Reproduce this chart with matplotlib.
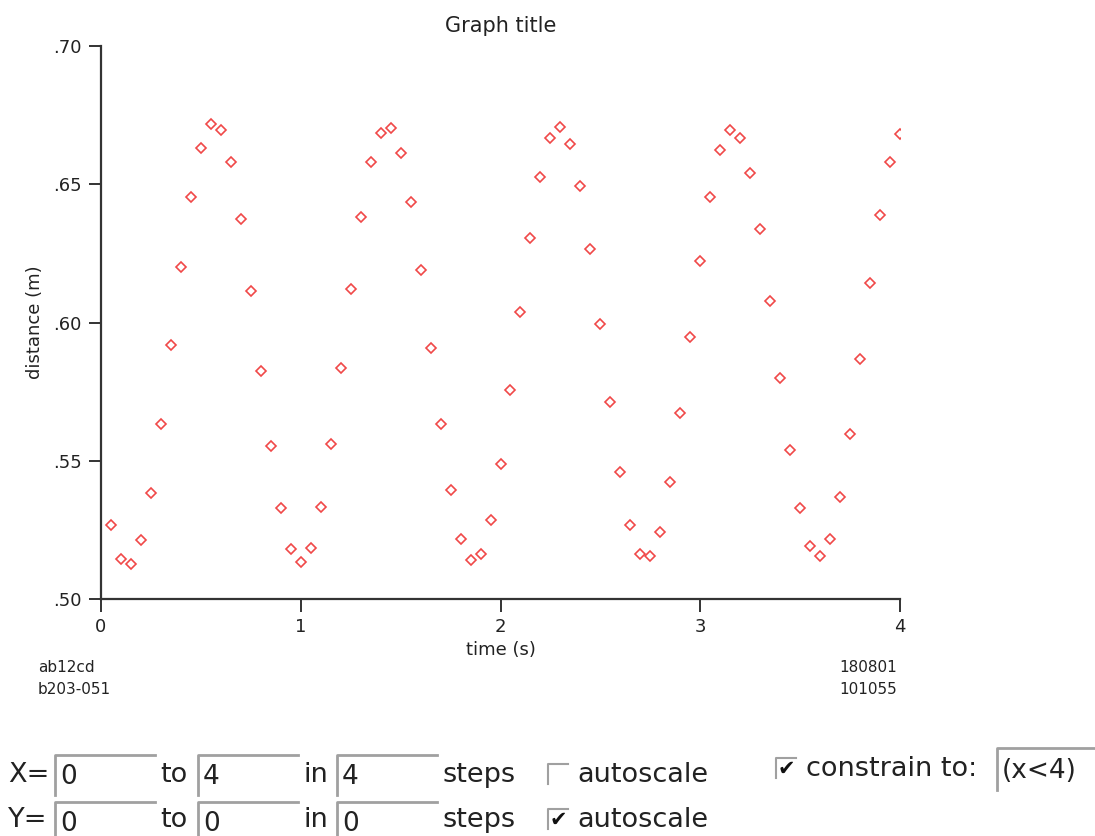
import matplotlib.pyplot as plt
from matplotlib.patches import Rectangle
from matplotlib.lines import Line2D

# time samples (s)
time_s = [0.05, 0.10, 0.15, 0.20, 0.25, 0.30, 0.35, 0.40, 0.45, 0.50,
          0.55, 0.60, 0.65, 0.70, 0.75, 0.80, 0.85, 0.90, 0.95, 1.00,
          1.05, 1.10, 1.15, 1.20, 1.25, 1.30, 1.35, 1.40, 1.45, 1.50,
          1.55, 1.60, 1.65, 1.70, 1.75, 1.80, 1.85, 1.90, 1.95, 2.00,
          2.05, 2.10, 2.15, 2.20, 2.25, 2.30, 2.35, 2.40, 2.45, 2.50,
          2.55, 2.60, 2.65, 2.70, 2.75, 2.80, 2.85, 2.90, 2.95, 3.00,
          3.05, 3.10, 3.15, 3.20, 3.25, 3.30, 3.35, 3.40, 3.45, 3.50,
          3.55, 3.60, 3.65, 3.70, 3.75, 3.80, 3.85, 3.90, 3.95, 4.00]

# distance readings (m)
distance_m = [0.5267, 0.5143, 0.5128, 0.5212, 0.5384, 0.5632, 0.5919, 0.6202, 0.6453, 0.6632,
              0.6719, 0.6695, 0.6581, 0.6376, 0.6115, 0.5825, 0.5554, 0.5330, 0.5181, 0.5133,
              0.5185, 0.5333, 0.5560, 0.5835, 0.6120, 0.6380, 0.6581, 0.6687, 0.6705, 0.6614,
              0.6437, 0.6191, 0.5908, 0.5634, 0.5393, 0.5216, 0.5140, 0.5164, 0.5285, 0.5489,
              0.5755, 0.6039, 0.6306, 0.6528, 0.6666, 0.6707, 0.6647, 0.6495, 0.6267, 0.5995,
              0.5713, 0.5460, 0.5266, 0.5164, 0.5156, 0.5243, 0.5423, 0.5673, 0.5948, 0.6222,
              0.6453, 0.6623, 0.6696, 0.6666, 0.6539, 0.6338, 0.6078, 0.5801, 0.5539, 0.5328,
              0.5193, 0.5155, 0.5216, 0.5370, 0.5597, 0.5867, 0.6144, 0.6389, 0.6580, 0.6681]

x_ticks = [0, 1, 2, 3, 4]
y_ticks = [0.50, 0.55, 0.60, 0.65, 0.70]
y_tick_labels = [".50", ".55", ".60", ".65", ".70"]

W, H = 1095, 836
fig = plt.figure(figsize=(W / 100, H / 100), dpi=100)

# plot area in pixels
left, right, top, bottom = 101, 900, 46, 599
ax = fig.add_axes([left / W, 1 - bottom / H, (right - left) / W, (bottom - top) / H])

ax.plot(time_s, distance_m, linestyle="none", marker="D", markersize=5.2,
        markerfacecolor="none", markeredgecolor="#f04848", markeredgewidth=1.2)

ax.set_xlim(0, 4)
ax.set_ylim(0.50, 0.70)
ax.set_xticks(x_ticks)
ax.set_xticklabels([str(t) for t in x_ticks])
ax.set_yticks(y_ticks)
ax.set_yticklabels(y_tick_labels)

for s in ["top", "right"]:
    ax.spines[s].set_visible(False)
for s in ["left", "bottom"]:
    ax.spines[s].set_linewidth(1.6)
    ax.spines[s].set_color("#333333")
ax.tick_params(direction="out", length=9, width=1.4, color="#333333",
               labelsize=13, labelcolor="#222222", pad=5)

ax.set_title("Graph title", fontsize=15, color="#222222", pad=10)
ax.set_xlabel("time (s)", fontsize=13, color="#222222", labelpad=3)
ax.set_ylabel("distance (m)", fontsize=13, color="#222222", labelpad=6)

# footer ids
foot = dict(fontsize=11, va="center", color="#222222")
fig.text(38 / W, 1 - 668 / H, "ab12cd", **foot)
fig.text(38 / W, 1 - 689 / H, "b203-051", **foot)
fig.text(897 / W, 1 - 668 / H, "180801", ha="right", **foot)
fig.text(897 / W, 1 - 689 / H, "101055", ha="right", **foot)


# form controls below the plot
def text_box(x0, x1, y0, y1, value):
    fig.patches.append(Rectangle((x0 / W, 1 - y1 / H), (x1 - x0) / W, (y1 - y0) / H,
                                 transform=fig.transFigure, facecolor="white",
                                 edgecolor="none"))
    fig.lines.append(Line2D([x0 / W, x0 / W, x1 / W], [1 - y1 / H, 1 - y0 / H, 1 - y0 / H],
                            transform=fig.transFigure, color="#a0a0a0", linewidth=2))
    fig.text((x0 + 5) / W, 1 - ((y0 + y1) / 2 + 2) / H, value, fontsize=19,
             va="center", color="#222222")


def check_box(x0, y0, checked):
    fig.lines.append(Line2D([x0 / W, x0 / W, (x0 + 20) / W], [1 - (y0 + 20) / H, 1 - y0 / H, 1 - y0 / H],
                            transform=fig.transFigure, color="#a0a0a0", linewidth=1.5))
    if checked:
        fig.text((x0 + 10) / W, 1 - (y0 + 11) / H, "\u2714", fontsize=15,
                 ha="center", va="center", color="#111111")


ui_font = dict(fontsize=19.5, va="center", color="#222222")
rows = [("X=", "0", "4", "4", False, 775, 755),
        ("Y=", "0", "0", "0", True, 820, 802)]
for label, v_from, v_to, v_steps, auto, yc, ytop in rows:
    fig.text(8 / W, 1 - yc / H, label, **ui_font)
    text_box(55, 155, ytop, ytop + 40, v_from)
    fig.text(160 / W, 1 - yc / H, "to", **ui_font)
    text_box(198, 298, ytop, ytop + 40, v_to)
    fig.text(304 / W, 1 - yc / H, "in", **ui_font)
    text_box(337, 437, ytop, ytop + 40, v_steps)
    fig.text(443 / W, 1 - yc / H, "steps", **ui_font)
    check_box(548, yc - 11, auto)
    fig.text(577 / W, 1 - yc / H, "autoscale", **ui_font)

check_box(776, 758, True)
fig.text(806 / W, 1 - 769 / H, "constrain to:", **ui_font)
text_box(997, 1095, 748, 790, "(x<4)")

fig.savefig("out.png", dpi=100)
